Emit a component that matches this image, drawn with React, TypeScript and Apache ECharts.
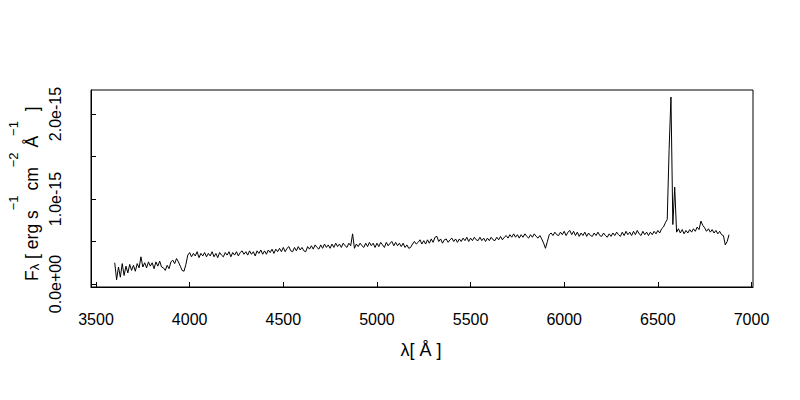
import React, { useEffect, useRef } from "react";
import * as echarts from "echarts";

// Spectrum sampled on a linear wavelength grid (Angstrom), flux in units of 1e-17 erg s^-1 cm^-2 A^-1
const WAVE_START = 3600;
const WAVE_STEP = 10;
const FLUX = [
  25, 5, 20, 8, 24, 10, 21, 13, 23, 16, // 3600-3690
  22, 15, 24, 19, 32, 20, 25, 19, 26, 21, // 3700-3790
  25, 18, 26, 21, 27, 20, 19, 16, 22, 18, // 3800-3890
  26, 28, 24, 30, 26, 21, 16, 15, 23, 34, // 3900-3990
  37, 32, 36, 33, 38, 31, 36, 33, 37, 32, // 4000-4090
  36, 33, 38, 32, 36, 31, 37, 34, 32, 37, // 4100-4190
  34, 38, 32, 37, 34, 38, 33, 37, 39, 35, // 4200-4290
  38, 34, 39, 35, 38, 33, 39, 36, 40, 35, // 4300-4390
  39, 35, 40, 37, 41, 36, 41, 38, 42, 38, // 4400-4490
  43, 38, 42, 44, 39, 38, 43, 39, 44, 40, // 4500-4590
  43, 39, 38, 44, 41, 45, 41, 46, 43, 41, // 4600-4690
  46, 42, 47, 43, 46, 42, 47, 43, 48, 44, // 4700-4790
  47, 43, 48, 45, 43, 48, 45, 59, 42, 47, // 4800-4890
  44, 48, 45, 43, 48, 44, 49, 45, 48, 43, // 4900-4990
  48, 44, 49, 46, 43, 49, 45, 48, 50, 45, // 5000-5090
  49, 45, 48, 44, 48, 43, 46, 42, 43, 47, // 5100-5190
  50, 47, 49, 52, 47, 51, 47, 52, 48, 53, // 5200-5290
  49, 55, 56, 50, 53, 48, 52, 53, 49, 52, // 5300-5390
  54, 50, 53, 49, 53, 50, 54, 51, 55, 50, // 5400-5490
  54, 51, 55, 52, 51, 55, 51, 54, 50, 54, // 5500-5590
  51, 55, 52, 51, 55, 52, 56, 52, 55, 57, // 5600-5690
  54, 58, 55, 59, 55, 58, 54, 58, 55, 59, // 5700-5790
  56, 54, 58, 55, 59, 56, 54, 57, 53, 48, // 5800-5890
  42, 50, 58, 60, 57, 61, 58, 57, 61, 58, // 5900-5990
  62, 57, 61, 63, 58, 62, 57, 61, 56, 60, // 6000-6090
  57, 61, 56, 60, 57, 56, 60, 57, 61, 57, // 6100-6190
  56, 60, 57, 55, 59, 56, 60, 57, 61, 58, // 6200-6290
  56, 61, 57, 62, 58, 61, 57, 62, 58, 63, // 6300-6390
  59, 57, 62, 58, 61, 57, 61, 58, 62, 59, // 6400-6490
  63, 60, 65, 67, 72, 76, 158, 220, 70, 114, // 6500-6590
  61, 65, 60, 64, 59, 63, 60, 64, 61, 65, // 6600-6690
  62, 67, 64, 74, 69, 66, 62, 65, 61, 64, // 6700-6790
  60, 63, 59, 62, 58, 57, 46, 50, 58, // 6800-6880
];

const X_TICKS = [3500, 4000, 4500, 5000, 5500, 6000, 6500, 7000];
const Y_TICKS = [0, 50, 100, 150, 200];
const Y_LABELS = [0, 100, 200];
const Y_LABEL_TEXT: Record<number, string> = { 0: "0.0e+00", 100: "1.0e-15", 200: "2.0e-15" };

const FONT = "'Liberation Sans', Arial, sans-serif";

export default function App() {
  const ref = useRef<HTMLDivElement>(null);
  useEffect(() => {
    if (!ref.current) return;
    const chart = echarts.init(ref.current, null, { renderer: "svg" });
    const data = FLUX.map((f, i) => [WAVE_START + i * WAVE_STEP, f]);
    chart.setOption({
      animation: false,
      backgroundColor: "#ffffff",
      textStyle: { fontFamily: FONT },
      grid: {
        left: 91,
        top: 90,
        width: 662,
        height: 197,
        show: true,
        borderColor: "#000",
        borderWidth: 1,
        backgroundColor: "transparent",
      },
      xAxis: {
        type: "value",
        min: 3473.3,
        max: 7008,
        axisLine: { show: true, onZero: false, lineStyle: { color: "#000", width: 1 } },
        axisTick: { show: true, inside: true, length: 5, customValues: X_TICKS, lineStyle: { color: "#000" } },
        axisLabel: {
          show: true,
          customValues: X_TICKS,
          margin: 24,
          color: "#000",
          fontSize: 16,
          fontFamily: FONT,
          formatter: (v: number) => String(v),
        },
        splitLine: { show: false },
      },
      yAxis: {
        type: "value",
        min: -3.53,
        max: 228.24,
        axisLine: { show: true, onZero: false, lineStyle: { color: "#000", width: 1 } },
        axisTick: { show: true, inside: true, length: 5, customValues: Y_TICKS, lineStyle: { color: "#000" } },
        axisLabel: {
          show: true,
          customValues: Y_LABELS,
          rotate: 90,
          margin: 28,
          color: "#000",
          fontSize: 16,
          fontFamily: FONT,
          formatter: (v: number) => Y_LABEL_TEXT[Math.round(v)] ?? "",
        },
        splitLine: { show: false },
      },
      graphic: [
        {
          type: "text",
          x: 421,
          y: 350,
          style: {
            text: "λ[ Å ]",
            fill: "#000",
            font: `18px ${FONT}`,
            align: "center",
            verticalAlign: "middle",
          },
        },
        {
          type: "text",
          x: 24,
          y: 194,
          rotation: Math.PI / 2,
          style: {
            text: "{h| }{m|F}{s|λ}{m| [ erg s}{p|−1}{m| cm}{p|−2}{m| Å}{p|−1}{m|  ]}",
            align: "center",
            verticalAlign: "middle",
            rich: {
              h: { fontSize: 2, fontFamily: FONT, fill: "#000", lineHeight: 34, verticalAlign: "top" },
              m: { fontSize: 17.5, fontFamily: FONT, fill: "#000", lineHeight: 24, verticalAlign: "bottom" },
              s: { fontSize: 13, fontFamily: FONT, fill: "#000", lineHeight: 13, verticalAlign: "bottom" },
              p: { fontSize: 13, fontFamily: FONT, fill: "#000", lineHeight: 13, verticalAlign: "top" },
            },
          },
        },
      ],
      series: [
        {
          type: "line",
          data,
          showSymbol: false,
          symbol: "none",
          lineStyle: { color: "#000", width: 1 },
          emphasis: { disabled: true },
        },
      ],
    });
    return () => chart.dispose();
  }, []);
  return <div ref={ref} style={{ position: "fixed", left: 0, top: 0, width: 800, height: 400 }} />;
}
